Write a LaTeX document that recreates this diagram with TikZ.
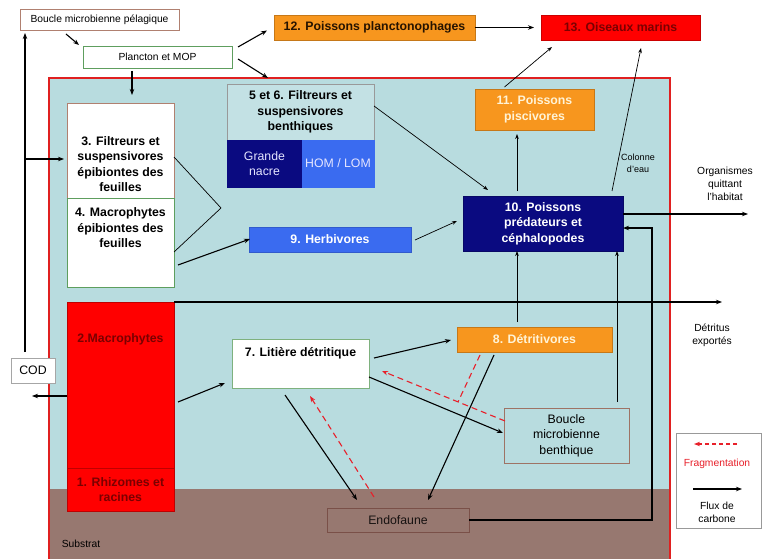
\documentclass[tikz,border=0pt]{standalone}
\usepackage{fontspec}
\setmainfont{Liberation Sans}
\usetikzlibrary{arrows.meta,calc}

\definecolor{water}{HTML}{B8DCDF}
\definecolor{soil}{HTML}{977870}
\definecolor{orangebox}{HTML}{F7961E}
\definecolor{redbox}{HTML}{FF0000}
\definecolor{navybox}{HTML}{0A0A80}
\definecolor{bluebox}{HTML}{3A6BF0}
\definecolor{frame}{HTML}{E02020}
\definecolor{darkred}{HTML}{7A0000}
\definecolor{cream}{HTML}{FFF3D6}
\definecolor{greenline}{HTML}{5E9E5E}
\definecolor{brownline}{HTML}{B08070}
\definecolor{soilline}{HTML}{7A5048}
\definecolor{fragred}{HTML}{E8202A}

\begin{document}
\begin{tikzpicture}[x=1pt,y=-1pt,
  box/.style={rectangle, draw, inner sep=1pt, outer sep=0pt, align=center, line width=0.8pt},
  big/.style={font=\fontsize{12.3}{15.5}\selectfont\bfseries},
  mid/.style={font=\fontsize{12.3}{15.5}\selectfont},
  small/.style={font=\fontsize{10.3}{13}\selectfont},
  tiny/.style={font=\fontsize{9}{12}\selectfont},
  txt/.style={inner sep=0pt, align=center},
  flux/.style={-{Stealth[length=6pt,width=4.5pt]}, line width=1.1pt},
  thinflux/.style={-{Stealth[length=5pt,width=3.6pt]}, line width=0.7pt},
  plain/.style={line width=0.7pt},
  frag/.style={fragred, dash pattern=on 6pt off 4pt, line width=1.1pt},
  fragarrow/.style={frag, -{Stealth[length=6pt,width=4.5pt]}}
]
\useasboundingbox (0,0) rectangle (768,559);

% habitat: water column and substrate
\fill[water] (49,78) rectangle (670,559);
\fill[soil] (49,489) rectangle (670,559);
\draw[frame, line width=1.8pt] (49,559) -- (49,78) -- (670,78) -- (670,559);
\node[small, txt] (substrat) at (81,544) {Substrat};

% outside the habitat
\node[box, small, draw=brownline, fill=white, minimum width=159pt, minimum height=21pt] (bmp) at (99.5,19.5) {Boucle microbienne pélagique};
\node[box, small, draw=greenline, fill=white, minimum width=149pt, minimum height=22pt] (plancton) at (157.5,57) {Plancton et MOP};
\node[box, big, draw=orangebox!80!black, fill=orangebox, text=black!85!orange, minimum width=201pt, minimum height=25pt] (p12) at (374.5,27.5) {12. Poissons planctonophages};
\node[box, big, draw=redbox!80!black, fill=redbox, text=darkred, minimum width=159pt, minimum height=25pt] (p13) at (620.5,27.5) {13. Oiseaux marins};
\node[box, mid, draw=gray!70, fill=white, minimum width=44pt, minimum height=25pt] (cod) at (33,370.5) {COD};

% leaf compartments
\node[box, draw=brownline, fill=white, minimum width=107pt, minimum height=95pt] (b3) at (120.5,150.5) {};
\node[big, txt] (t3) at (120.5,164) {3. Filtreurs et\\suspensivores\\épibiontes des\\feuilles};
\node[box, draw=greenline, fill=white, minimum width=107pt, minimum height=89pt] (b4) at (120.5,242.5) {};
\node[big, txt] (t4) at (120.5,228) {4. Macrophytes\\épibiontes des\\feuilles};

% macrophytes and rhizomes
\node[box, draw=red!75!black, fill=redbox, minimum width=107pt, minimum height=209pt] (b2) at (120.5,406.5) {};
\node[big, txt, text=darkred] (t2) at (120.5,339) {2.Macrophytes};
\node[box, big, draw=red!75!black, fill=redbox, text=darkred, minimum width=107pt, minimum height=43pt] (b1) at (120.5,489.5) {1. Rhizomes et\\racines};

% benthic filter feeders
\node[box, big, draw=gray!80, fill=water!85!white, minimum width=147pt, minimum height=56pt] (b56) at (300.5,112) {5 et 6. Filtreurs et\\suspensivores\\benthiques};
\node[box, mid, draw=navybox, fill=navybox, text=white!90!blue, minimum width=75pt, minimum height=47pt] (gn) at (264.5,163.5) {Grande\\nacre};
\node[box, mid, draw=bluebox, fill=bluebox, text=white!90!blue, minimum width=72pt, minimum height=47pt] (hom) at (338,163.5) {HOM / LOM};

% consumers
\node[box, big, draw=orangebox!80!black, fill=orangebox, text=cream, minimum width=119pt, minimum height=41pt] (p11) at (534.5,109.5) {11. Poissons\\piscivores};
\node[box, big, draw=navybox!80!black, fill=navybox, text=white, minimum width=160pt, minimum height=55pt] (p10) at (543,223.5) {10. Poissons\\prédateurs et\\céphalopodes};
\node[box, big, draw=bluebox!85!black, fill=bluebox, text=white, minimum width=162pt, minimum height=25pt] (p9) at (330,239.5) {9. Herbivores};
\node[box, draw=greenline!80!white, fill=white, minimum width=137pt, minimum height=49pt] (l7) at (300.5,363.5) {};
\node[big, txt] (t7) at (300.5,353) {7. Litière détritique};
\node[box, big, draw=orangebox!80!black, fill=orangebox, text=cream, minimum width=155pt, minimum height=25pt] (d8) at (534.5,339.5) {8. Détritivores};
\node[box, mid, draw=brownline!90!black, fill=water, minimum width=125pt, minimum height=55pt] (bmb) at (566.5,435.5) {Boucle\\microbienne\\benthique};
\node[box, mid, draw=soilline, fill=soil, text=black!85!soil, minimum width=142pt, minimum height=24pt] (endo) at (398,520) {Endofaune};

% free labels
\node[tiny, txt] (colonne) at (638,163) {Colonne\\d'eau};
\node[small, txt] (orgtxt) at (725,183.5) {Organismes\\quittant\\l'habitat};
\node[small, txt] (dettxt) at (712,335) {Détritus\\exportés};

% legend
\node[box, draw=gray!80, fill=white, minimum width=85pt, minimum height=95pt] (legend) at (718.5,480.5) {};
\node[small, txt, text=fragred] (lgfrag) at (717,464) {Fragmentation};
\node[small, txt] (lgflux) at (717,512) {Flux de\\carbone};
\draw[fragarrow, dash pattern=on 4pt off 3pt] ($(legend.north)+(18.5,11)$) -- ($(legend.north)+(-24.5,11)$);
\draw[flux] ($(legend.center)+(-25.5,8.5)$) -- ($(legend.center)+(23.5,8.5)$);

% free ends and turning points
\coordinate (codtop) at ($(cod.north west)+(14,-6)$);
\coordinate (b3in) at ($(b3.west)+(-3,8.5)$);
\coordinate (ftop) at ($(plancton.east)+(36,21)$);
\coordinate (vx) at ($(b4.north east)+(47,10)$);
\coordinate (orgout) at ($(p10.east)+(125,-9.5)$);
\coordinate (rt) at ($(p10.east)+(29,4.5)$);
\coordinate (detout) at ($(b2.north east)+(548,0)$);
\coordinate (codout) at ($(b2.west)+(-35,-10.5)$);

% pelagic links
\draw[flux] ($(bmp.south)+(-33.5,4)$) -- ($(plancton.north west)+(-4,-1)$);
\draw[flux] (codtop) -- ($(bmp.south west)+(5,3)$);
\draw[flux] (codtop |- b3in) -- (b3in);
\draw[flux] ($(plancton.south)+(-25.5,3)$) -- ($(b3.north)+(11.5,-8)$);
\draw[flux] ($(plancton.east)+(6,-10)$) -- ($(p12.west)+(-7,3)$);
\draw[flux] ($(plancton.east)+(6,2)$) -- (ftop);
\draw[flux] (p12.east) -- ($(p13.west)+(-7,0)$);
\draw[thinflux] ($(p11.north)+(-30,-2)$) -- ($(p13.south west)+(11,7)$);
\draw[thinflux] ($(p10.north east)+(-11,-5)$) -- ($(p13.south east)+(-59,8)$);

% water column links
\draw[thinflux] ($(p10.north)+(-26,-5)$) -- ($(p11.south)+(-17.5,4)$);
\draw[thinflux] ($(b56.east)+(0,-6)$) -- ($(p10.north west)+(25,-6)$);
\draw[plain] ($(b3.east)+(0,6.5)$) -- (vx) -- ($(b4.east)+(0,9.5)$);
\draw[flux] ($(b4.east)+(4,22.5)$) -- ($(p9.west)+(1,-0.5)$);
\draw[thinflux] ($(p9.east)+(4,0.5)$) -- ($(p10.west)+(-6,-2.5)$);
\draw[flux] ($(p10.east)+(0,-9.5)$) -- (orgout);
\draw[flux] (endo.east) -| (rt) -- ($(p10.east)+(0,4.5)$);
\draw[thinflux] ($(d8.north)+(-17.5,-5)$) -- ($(p10.south)+(-26,0)$);
\draw[thinflux] ($(bmb.north)+(50.5,-6)$) -- ($(p10.south)+(74,0)$);

% detritus and benthic links
\draw[flux] (b2.north east) -- (detout);
\draw[flux] ($(b2.west)+(0,-10.5)$) -- (codout);
\draw[flux] ($(b2.east)+(4,-4.5)$) -- ($(l7.south west)+(-7,-5)$);
\draw[flux] ($(l7.east)+(5,-5.5)$) -- ($(d8.west)+(-6,0.5)$);
\draw[flux] ($(l7.east)+(0,13.5)$) -- ($(bmb.west)+(-1,-2.5)$);
\draw[flux] ($(d8.south)+(-40.5,3)$) -- ($(endo.north)+(30,-8)$);
\draw[flux] ($(l7.south)+(-15.5,7)$) -- ($(endo.north)+(-41,-8)$);

% fragmentation
\coordinate (fa) at ($(bmb.west)+(1,-14.5)$);
\coordinate (fb) at ($(l7.east)+(13,7.5)$);
\draw[fragarrow] ($(endo.north)+(-24,-11)$) -- ($(l7.south)+(9.5,8)$);
\draw[fragarrow] (fa) -- (fb);
\draw[frag] ($(d8.south)+(-54.5,3)$) -- ($(fa)!0.382!(fb)$);
\end{tikzpicture}
\end{document}
